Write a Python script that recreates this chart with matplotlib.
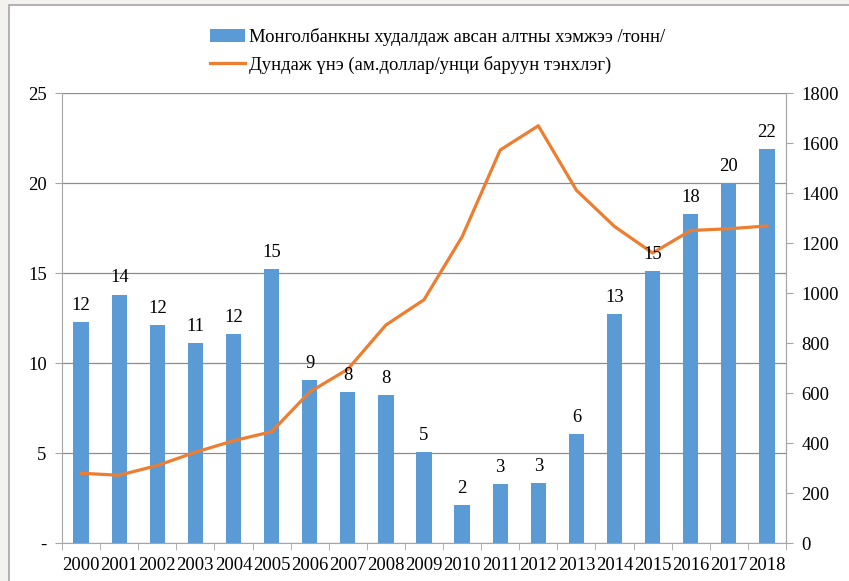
import matplotlib
matplotlib.use("Agg")
import matplotlib.pyplot as plt
import numpy as np
from matplotlib.patches import Rectangle

plt.rcParams['font.family'] = ['Liberation Serif', 'DejaVu Serif']

years = [str(y) for y in range(2000, 2019)]
gold_tonnes = [12.3, 13.8, 12.1, 11.1, 11.6, 15.2, 9.05, 8.4, 8.2, 5.05,
               2.1, 3.3, 3.35, 6.05, 12.7, 15.1, 18.3, 20.0, 21.9]
avg_price = [279, 271, 310, 363, 409, 445, 604, 695, 872, 973,
             1225, 1572, 1669, 1411, 1266, 1160, 1250, 1257, 1268]

bar_label = "Монголбанкны худалдаж авсан алтны хэмжээ /тонн/"
line_label = "Дундаж үнэ (ам.доллар/унци баруун тэнхлэг)"
fs = 13.4

fig = plt.figure(figsize=(8.49, 5.81), dpi=100)
fig.patch.set_facecolor('#f4f2ee')
# white chart panel with grey border
fig.patches.append(Rectangle((9 / 849, -0.01), 1, 1 - 5 / 581 + 0.01,
                             transform=fig.transFigure, facecolor='white',
                             edgecolor='#a6a6a6', linewidth=1.2, zorder=-5))

ax = fig.add_axes([62 / 849, 38 / 581, 724 / 849, 450 / 581])
ax.set_facecolor('none')
x = np.arange(len(years))

bars = ax.bar(x, gold_tonnes, width=0.4, color='#5b9bd5', zorder=2, label=bar_label)

ax.set_ylim(0, 25)
ax.set_yticks([0, 5, 10, 15, 20, 25])
ax.set_yticklabels(['-', '5', '10', '15', '20', '25'])
ax.set_xlim(-0.5, len(years) - 0.5)
ax.set_xticks(x)
ax.set_xticklabels(years)
ax.set_xticks(np.arange(-0.5, len(years)), minor=True)
ax.tick_params(axis='x', which='major', length=0, pad=10, labelsize=fs)
ax.tick_params(axis='x', which='minor', length=5, color='#a6a6a6')
ax.tick_params(axis='y', length=5, color='#a6a6a6', labelsize=fs, pad=6)
ax.yaxis.grid(True, color='#8c8c8c', linewidth=0.9, zorder=0)
ax.set_axisbelow(True)
ax.spines['top'].set_visible(False)
for side in ['left', 'right', 'bottom']:
    ax.spines[side].set_color('#a6a6a6')

ax2 = ax.twinx()
line, = ax2.plot(x, avg_price, color='#ed7d31', linewidth=2.3, zorder=3, label=line_label)
ax2.set_ylim(0, 1800)
ax2.set_yticks(range(0, 1801, 200))
ax2.tick_params(axis='y', length=5, color='#a6a6a6', labelsize=fs, pad=6)
for side in ['top', 'left', 'bottom']:
    ax2.spines[side].set_visible(False)
ax2.spines['right'].set_color('#a6a6a6')

# bar value labels drawn above the price line
for xi, v in zip(x, gold_tonnes):
    ax2.text(xi, v + 0.45, f"{v:.0f}", transform=ax.transData, ha='center',
             va='bottom', fontsize=fs, zorder=5)

fig.legend(handles=[bars, line], labels=[bar_label, line_label],
           loc='upper center', bbox_to_anchor=(0.515, 0.98), ncol=1,
           frameon=False, fontsize=fs, handlelength=1.9, handletextpad=0.2,
           labelspacing=0.5)

fig.savefig('out.png', dpi=100)
